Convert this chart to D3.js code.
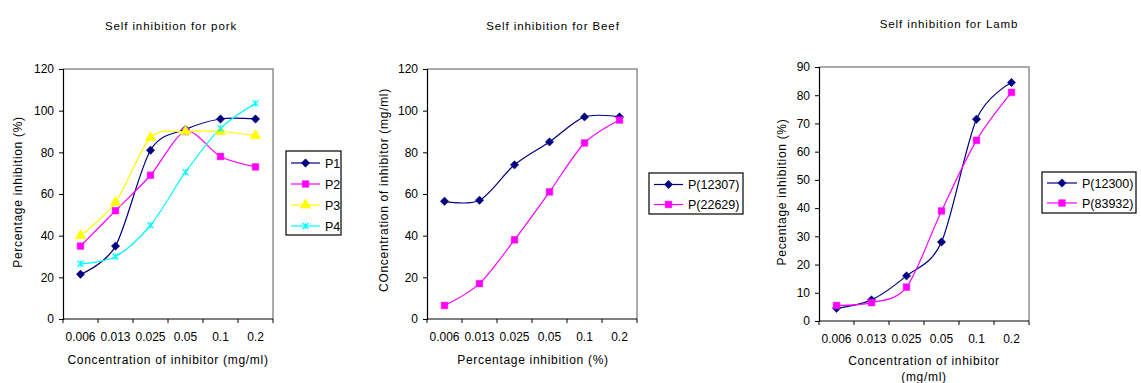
<!DOCTYPE html>
<html>
<head>
<meta charset="utf-8">
<script src="https://d3js.org/d3.v7.min.js"></script>
<style>
    body { margin: 0; background: #fff; }
    svg { font-family: "Liberation Sans", Arial, sans-serif; }
    .title { font-size: 11.5px; letter-spacing: 0.9px; text-anchor: middle; }
    .axis-title { font-size: 12px; letter-spacing: 0.7px; text-anchor: middle; }
    .tick-label { font-size: 12px; }
    .legend-text { font-size: 12.5px; }
</style>
</head>
<body>
<svg id="chart" width="1141" height="383"></svg>
<script>
    // categories (concentration of inhibitor, mg/ml)
    const concentrations = ["0.006", "0.013", "0.025", "0.05", "0.1", "0.2"];

    // pork
    const porkP1 = [21.5, 35, 81, 91, 96, 96];
    const porkP2 = [35, 52, 69, 90, 78, 73];
    const porkP3 = [40, 56, 87, 90, 90, 88];
    const porkP4 = [26.5, 30, 45, 70.5, 91.5, 103.5];

    // beef
    const beef12307 = [56.5, 57, 74, 85, 97, 97];
    const beef22629 = [6.5, 17, 38, 61, 84.5, 95.5];

    // lamb
    const lamb12300 = [4.5, 7.5, 16, 28, 71.5, 84.5];
    const lamb83932 = [5.5, 6.5, 12, 39, 64, 81];

    const porkTicks = [0, 20, 40, 60, 80, 100, 120];
    const beefTicks = [0, 20, 40, 60, 80, 100, 120];
    const lambTicks = [0, 10, 20, 30, 40, 50, 60, 70, 80, 90];

    // Excel-like markers
    const symbolStar = {
        draw(ctx, size) {
            const r = Math.sqrt(size) / 2;
            ctx.moveTo(-r, -r); ctx.lineTo(r, r);
            ctx.moveTo(r, -r); ctx.lineTo(-r, r);
            ctx.moveTo(0, -r); ctx.lineTo(0, r);
        }
    };
    const symbolRhomb = {
        draw(ctx, size) {
            const r = Math.sqrt(size) / 2;
            ctx.moveTo(0, -r); ctx.lineTo(r, 0); ctx.lineTo(0, r); ctx.lineTo(-r, 0); ctx.closePath();
        }
    };

    const styles = {
        navy:    { color: "#000080", symbol: symbolRhomb, size: 70, fill: true },
        magenta: { color: "#ff00ff", symbol: d3.symbolSquare, size: 44, fill: true },
        yellow:  { color: "#ffff00", symbol: d3.symbolTriangle, size: 50, fill: true },
        cyan:    { color: "#00ffff", symbol: symbolStar, size: 36, fill: false }
    };

    const svg = d3.select("#chart");

    function drawChart(cfg) {
        const g = svg.append("g");
        const x = d3.scaleBand().domain(concentrations).range([cfg.x0, cfg.x1]).padding(0);
        const y = d3.scaleLinear().domain([0, d3.max(cfg.ticks)]).range([cfg.y1, cfg.y0]);

        // plot frame: gray top/right
        g.append("path")
            .attr("d", `M${cfg.x0},${cfg.y0}H${cfg.x1}V${cfg.y1}`)
            .attr("fill", "none")
            .attr("stroke", "#909090")
            .attr("stroke-width", 1.5);

        // y axis
        const ya = g.append("g")
            .attr("transform", `translate(${cfg.x0},0)`)
            .call(d3.axisLeft(y).tickValues(cfg.ticks).tickSize(4).tickPadding(5).tickFormat(d3.format("d")));
        ya.select(".domain").attr("stroke", "#000").attr("stroke-width", 1.2);
        ya.selectAll("text").attr("class", "tick-label").attr("font-family", null).attr("font-size", null);

        // x axis: line + ticks at band boundaries
        g.append("line")
            .attr("x1", cfg.x0).attr("x2", cfg.x1)
            .attr("y1", cfg.y1).attr("y2", cfg.y1)
            .attr("stroke", "#000").attr("stroke-width", 1.2);
        const bounds = concentrations.map(c => x(c)).concat([x(concentrations[concentrations.length - 1]) + x.bandwidth()]);
        g.selectAll(".xtick").data(bounds).enter().append("line")
            .attr("x1", d => d).attr("x2", d => d)
            .attr("y1", cfg.y1).attr("y2", cfg.y1 + 4)
            .attr("stroke", "#000");
        g.selectAll(".xlabel").data(concentrations).enter().append("text")
            .attr("class", "tick-label")
            .attr("x", d => x(d) + x.bandwidth() / 2)
            .attr("y", cfg.y1 + 22)
            .attr("text-anchor", "middle")
            .text(d => d);

        // series
        const line = d3.line()
            .x((d, i) => x(concentrations[i]) + x.bandwidth() / 2)
            .y(d => y(d))
            .curve(d3.curveCardinal.tension(0.1));
        cfg.series.forEach(s => {
            const st = styles[s.style];
            g.append("path")
                .datum(s.values)
                .attr("d", line)
                .attr("fill", "none")
                .attr("stroke", st.color)
                .attr("stroke-width", 1.2);
        });
        cfg.series.forEach(s => {
            const st = styles[s.style];
            const sym = d3.symbol().type(st.symbol).size(st.size);
            g.selectAll(null).data(s.values).enter().append("path")
                .attr("d", sym)
                .attr("transform", (d, i) => `translate(${x(concentrations[i]) + x.bandwidth() / 2},${y(d)})`)
                .attr("fill", st.fill ? st.color : "none")
                .attr("stroke", st.color)
                .attr("stroke-width", st.fill ? 0.5 : 1.2);
        });

        // titles
        g.append("text").attr("class", "title")
            .attr("x", cfg.titleX).attr("y", cfg.titleY)
            .text(cfg.title);
        const xt = g.append("text").attr("class", "axis-title")
            .attr("x", cfg.xTitleX).attr("y", cfg.xTitleY);
        cfg.xTitle.forEach((t, i) => {
            xt.append("tspan").attr("x", cfg.xTitleX).attr("dy", i === 0 ? 0 : 16).text(t);
        });
        g.append("text").attr("class", "axis-title")
            .attr("transform", `translate(${cfg.yTitleX},${cfg.yTitleY}) rotate(-90)`)
            .text(cfg.yTitle);

        // legend
        const lg = g.append("g");
        lg.append("rect")
            .attr("x", cfg.legend.x).attr("y", cfg.legend.y)
            .attr("width", cfg.legend.w).attr("height", cfg.legend.h)
            .attr("fill", "#fff").attr("stroke", "#000").attr("stroke-width", 1.2);
        cfg.series.forEach((s, i) => {
            const st = styles[s.style];
            const cy = cfg.legend.y + cfg.legend.first + i * cfg.legend.step;
            const lx = cfg.legend.x + 5;
            lg.append("line")
                .attr("x1", lx).attr("x2", lx + cfg.legend.lineW)
                .attr("y1", cy).attr("y2", cy)
                .attr("stroke", st.color).attr("stroke-width", 1.2);
            lg.append("path")
                .attr("d", d3.symbol().type(st.symbol).size(st.size)())
                .attr("transform", `translate(${lx + cfg.legend.lineW / 2},${cy})`)
                .attr("fill", st.fill ? st.color : "none")
                .attr("stroke", st.color)
                .attr("stroke-width", st.fill ? 0.5 : 1.2);
            lg.append("text").attr("class", "legend-text")
                .attr("x", lx + cfg.legend.lineW + 5).attr("y", cy + 4.5)
                .text(s.name);
        });
    }

    drawChart({
        title: "Self inhibition for pork", titleX: 171, titleY: 30,
        x0: 63, x1: 273, y0: 69, y1: 319, ticks: porkTicks,
        xTitle: ["Concentration of inhibitor (mg/ml)"], xTitleX: 168, xTitleY: 364,
        yTitle: "Percentage inhibition (%)", yTitleX: 22, yTitleY: 192,
        series: [
            { name: "P1", values: porkP1, style: "navy" },
            { name: "P2", values: porkP2, style: "magenta" },
            { name: "P3", values: porkP3, style: "yellow" },
            { name: "P4", values: porkP4, style: "cyan" }
        ],
        legend: { x: 286, y: 151, w: 55, h: 84, first: 12, step: 21, lineW: 29 }
    });

    drawChart({
        title: "Self inhibition for Beef", titleX: 553, titleY: 30,
        x0: 427, x1: 637, y0: 69, y1: 319, ticks: beefTicks,
        xTitle: ["Percentage inhibition (%)"], xTitleX: 533, xTitleY: 364,
        yTitle: "COncentration of inhibitor (mg/ml)", yTitleX: 388, yTitleY: 190,
        series: [
            { name: "P(12307)", values: beef12307, style: "navy" },
            { name: "P(22629)", values: beef22629, style: "magenta" }
        ],
        legend: { x: 649, y: 173, w: 94, h: 41, first: 11.5, step: 20, lineW: 29 }
    });

    drawChart({
        title: "Self inhibition for Lamb", titleX: 949, titleY: 28,
        x0: 819, x1: 1029, y0: 67, y1: 321, ticks: lambTicks,
        xTitle: ["Concentration of inhibitor", "(mg/ml)"], xTitleX: 924, xTitleY: 365,
        yTitle: "Pecentage inhibition (%)", yTitleX: 786, yTitleY: 192,
        series: [
            { name: "P(12300)", values: lamb12300, style: "navy" },
            { name: "P(83932)", values: lamb83932, style: "magenta" }
        ],
        legend: { x: 1042, y: 172, w: 94, h: 41, first: 11, step: 20, lineW: 30 }
    });
</script>
</body>
</html>
